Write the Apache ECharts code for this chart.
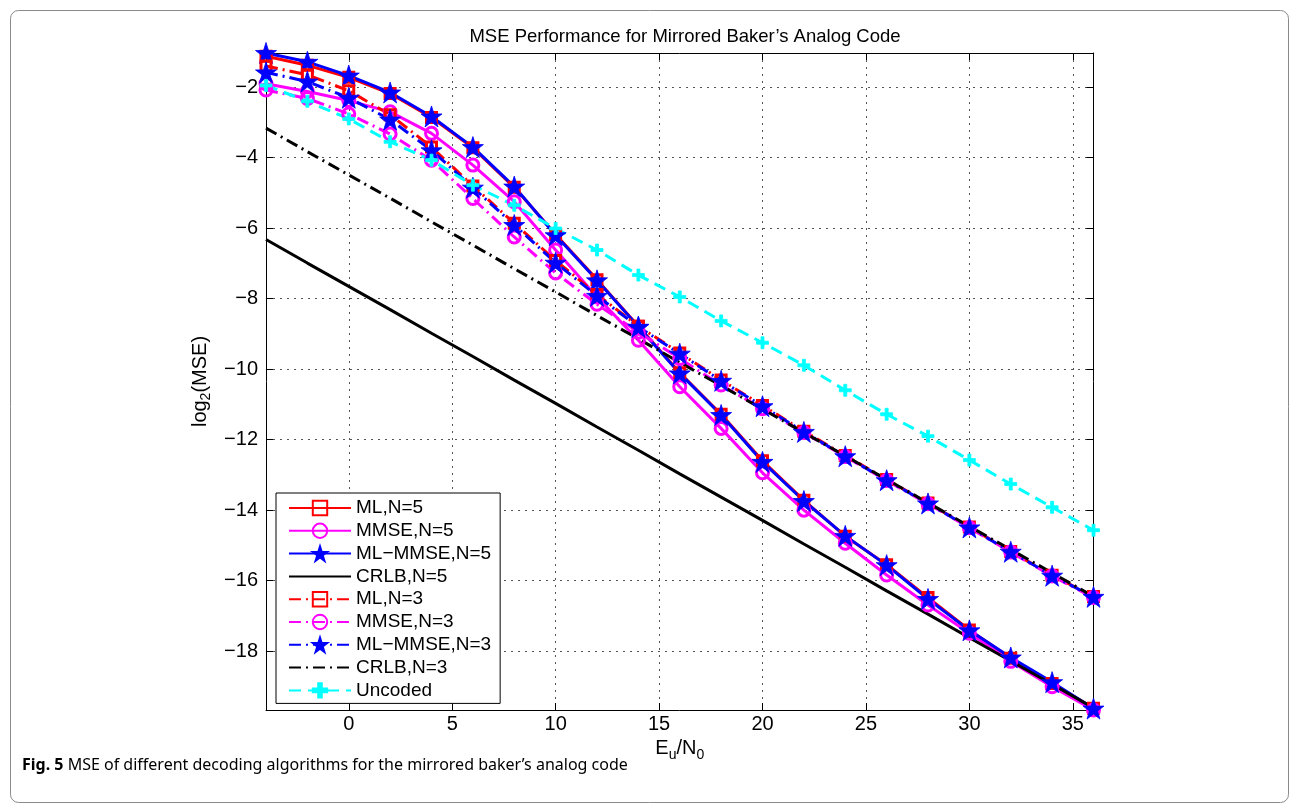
<!DOCTYPE html>
<html><head><meta charset="utf-8">
<script src="https://cdn.jsdelivr.net/npm/echarts@6/dist/echarts.min.js"></script>
<style>html,body{margin:0;padding:0;background:#fff}#c{width:1294px;height:812px}</style>
</head><body><div id="c"></div>
<script>
// ---------------- data ----------------
const snr = [-4,-2,0,2,4,6,8,10,12,14,16,18,20,22,24,26,28,30,32,34,36];
const mlN5     = [-1.12,-1.38,-1.72,-2.18,-2.86,-3.72,-4.84,-6.18,-7.46,-8.78,-10.10,-11.28,-12.60,-13.72,-14.74,-15.55,-16.48,-17.40,-18.20,-18.92,-19.62];
const mmseN5   = [-1.90,-2.12,-2.38,-2.70,-3.31,-4.21,-5.25,-6.62,-7.95,-9.18,-10.50,-11.68,-12.94,-14.00,-14.94,-15.84,-16.69,-17.49,-18.29,-19.01,-19.67];
const mlmmseN5 = [-1.03,-1.28,-1.67,-2.15,-2.83,-3.70,-4.82,-6.20,-7.48,-8.80,-10.12,-11.30,-12.63,-13.74,-14.73,-15.56,-16.52,-17.41,-18.18,-18.88,-19.63];
const crlbN5   = [-6.32,-6.99,-7.65,-8.31,-8.98,-9.64,-10.31,-10.97,-11.64,-12.30,-12.97,-13.63,-14.29,-14.96,-15.62,-16.29,-16.95,-17.62,-18.28,-18.94,-19.61];
const mlN3     = [-1.40,-1.65,-2.10,-2.78,-3.70,-4.80,-5.86,-6.92,-7.88,-8.78,-9.54,-10.31,-11.03,-11.76,-12.45,-13.13,-13.80,-14.48,-15.17,-15.85,-16.45];
const mmseN3   = [-2.08,-2.32,-2.76,-3.33,-4.07,-5.16,-6.25,-7.27,-8.16,-8.95,-9.70,-10.45,-11.12,-11.80,-12.48,-13.16,-13.82,-14.50,-15.19,-15.87,-16.48];
const mlmmseN3 = [-1.58,-1.84,-2.30,-2.92,-3.79,-4.85,-5.91,-6.98,-7.92,-8.80,-9.56,-10.33,-11.05,-11.78,-12.47,-13.15,-13.81,-14.49,-15.18,-15.86,-16.46];
const crlbN3   = [-3.16,-3.83,-4.49,-5.15,-5.82,-6.48,-7.15,-7.81,-8.48,-9.14,-9.81,-10.47,-11.13,-11.80,-12.46,-13.13,-13.79,-14.46,-15.12,-15.78,-16.45];
const uncoded  = [-1.95,-2.40,-2.90,-3.55,-4.07,-4.78,-5.35,-6.01,-6.62,-7.33,-7.95,-8.63,-9.25,-9.89,-10.60,-11.28,-11.90,-12.58,-13.26,-13.92,-14.57];
const xTicks = [0,5,10,15,20,25,30,35];
const yTicks = [-18,-16,-14,-12,-10,-8,-6,-4,-2];
const seriesNames = ['ML,N=5','MMSE,N=5','ML\u2212MMSE,N=5','CRLB,N=5','ML,N=3','MMSE,N=3','ML\u2212MMSE,N=3','CRLB,N=3','Uncoded'];
const xRange = [-4, 36];
const yRange = [-19.67, -1.03];

// ---------------- styles ----------------
const FONT = "'Liberation Sans', Arial, Helvetica, sans-serif";
const STAR = 'path://M50,0L61.2,34.5L97.6,34.5L68.2,55.9L79.4,90.5L50,69.1L20.6,90.5L31.8,55.9L2.4,34.5L38.8,34.5Z';
const PLUS = 'path://M4.5,0H7.5V4.5H12V7.5H7.5V12H4.5V7.5H0V4.5H4.5Z';
const DASHDOT = [12,5,2,5];
const DASHED = [12,7];
const CLEAR = 'rgba(255,255,255,0)';

function mk(name, vals, color, lineType, symbol, size, filled) {
  let itemStyle;
  if (!symbol) itemStyle = { color: CLEAR, borderColor: CLEAR, borderWidth: 0 };
  else if (filled) itemStyle = { color, borderColor: color, borderWidth: 0.8 };
  else itemStyle = { color: CLEAR, borderColor: color, borderWidth: 3 };
  return {
    name, type: 'line', clip: false, animation: false,
    data: snr.map((x, i) => [x, vals[i]]),
    symbol: symbol || 'none', symbolSize: size || 0, showSymbol: !!symbol,
    lineStyle: { color, width: 3, type: lineType, cap: 'butt' },
    itemStyle,
    emphasis: { disabled: true }
  };
}

const series = [
  mk(seriesNames[0], mlN5, '#ff0000', 'solid', 'rect', 10, false),
  mk(seriesNames[1], mmseN5, '#ff00ff', 'solid', 'circle', 12, false),
  mk(seriesNames[2], mlmmseN5, '#0000ff', 'solid', STAR, 21, true),
  mk(seriesNames[3], crlbN5, '#000000', 'solid', null),
  mk(seriesNames[4], mlN3, '#ff0000', DASHDOT, 'rect', 10, false),
  mk(seriesNames[5], mmseN3, '#ff00ff', DASHDOT, 'circle', 12, false),
  mk(seriesNames[6], mlmmseN3, '#0000ff', DASHDOT, STAR, 21, true),
  mk(seriesNames[7], crlbN3, '#000000', DASHDOT, null),
  mk(seriesNames[8], uncoded, '#00ffff', DASHED, PLUS, 12, true)
];

const minus = v => String(v).replace('-', '\u2212');
const axisLineStyle = { show: true, onZero: false, lineStyle: { color: '#000', width: 1 } };
const tickStyle = (vals) => ({ show: true, inside: true, length: 7, customValues: vals, lineStyle: { color: '#000', width: 1 } });
const gridLine = { show: true, lineStyle: { color: '#555', width: 1, type: [2, 5] } };
const nameRich = {
  a: { fontFamily: FONT, fontSize: 20, color: '#000' },
  s: { fontFamily: FONT, fontSize: 14, color: '#000', padding: [12, 0, 0, 0] }
};

const option = {
  backgroundColor: '#fff',
  animation: false,
  title: {
    text: 'MSE Performance for Mirrored Baker\u2019s Analog Code',
    left: 680, top: 22, textAlign: 'center',
    textStyle: { fontFamily: FONT, fontSize: 18.5, fontWeight: 'normal', color: '#000' }
  },
  grid: { left: 266, right: 200.5, top: 53, bottom: 102, containLabel: false },
  legend: {
    orient: 'vertical', left: 276, top: 493,
    data: seriesNames,
    itemWidth: 62, itemHeight: 18, itemGap: 2.8,
    padding: [5, 9, 3, 12],
    borderColor: '#000', borderWidth: 1, backgroundColor: '#fff',
    textStyle: { fontFamily: FONT, fontSize: 19, lineHeight: 20, color: '#000' },
    selectedMode: false
  },
  xAxis: [{
    type: 'value', min: xRange[0], max: xRange[1], position: 'bottom',
    axisLine: axisLineStyle,
    axisTick: tickStyle(xTicks),
    axisLabel: { customValues: xTicks, margin: 4, fontFamily: FONT, fontSize: 20, color: '#000', formatter: minus },
    splitLine: gridLine,
    name: '{a|E}{s|u}{a|/N}{s|0}', nameLocation: 'middle', nameGap: 21,
    nameTextStyle: { color: '#000', fontFamily: FONT, fontSize: 20, rich: nameRich }
  }, {
    type: 'value', min: xRange[0], max: xRange[1], position: 'top',
    axisLine: axisLineStyle, axisTick: tickStyle(xTicks),
    axisLabel: { show: false }, splitLine: { show: false }
  }],
  yAxis: [{
    type: 'value', min: yRange[0], max: yRange[1], position: 'left',
    axisLine: axisLineStyle,
    axisTick: tickStyle(yTicks),
    axisLabel: { customValues: yTicks, margin: 8, fontFamily: FONT, fontSize: 20, color: '#000', formatter: minus },
    splitLine: gridLine,
    name: '{a|log}{s|2}{a|(MSE)}', nameLocation: 'middle', nameGap: 45,
    nameTextStyle: { color: '#000', fontFamily: FONT, fontSize: 20, rich: nameRich }
  }, {
    type: 'value', min: yRange[0], max: yRange[1], position: 'right',
    axisLine: axisLineStyle, axisTick: tickStyle(yTicks),
    axisLabel: { show: false }, splitLine: { show: false }
  }],
  series,
  graphic: [
    { type: 'rect', left: 8, top: 8, z: -10, silent: true,
      shape: { width: 1278, height: 792, r: 8 },
      style: { fill: 'none', stroke: '#8a8a8a', lineWidth: 1 } },
    { type: 'text', left: 22, top: 757, silent: true,
      style: { text: '{b|Fig. 5} MSE of different decoding algorithms for the mirrored baker\u2019s analog code',
        fontFamily: 'Noto Sans', fontSize: 16, fill: '#000',
        rich: { b: { fontFamily: 'Noto Sans', fontSize: 16, fontWeight: 'bold', fill: '#000' } } } }
  ]
};

const chart = echarts.init(document.getElementById('c'), null, { renderer: 'canvas' });
chart.setOption(option);
</script>
</body></html>
